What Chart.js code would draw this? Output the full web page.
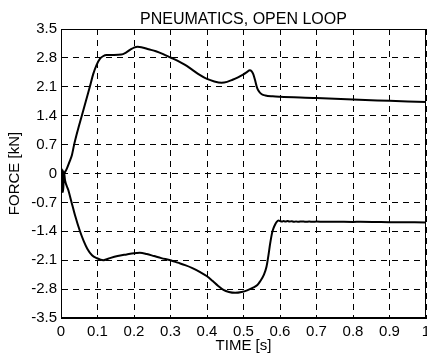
<!DOCTYPE html>
<html>
<head>
<meta charset="utf-8">
<script src="https://cdn.jsdelivr.net/npm/chart.js@4.4.0/dist/chart.umd.min.js"></script>
<style>
  html, body { margin: 0; padding: 0; background: #fff; }
  #wrap { width: 427px; height: 358px; }
</style>
</head>
<body>
<div id="wrap"><canvas id="forceChart" width="427" height="358"></canvas></div>
<script>
// Titel und Achsen
const chartTitle = 'PNEUMATICS, OPEN LOOP';
const xTitle = 'TIME [s]';
const yTitle = 'FORCE [kN]';

// Tick-Werte und Beschriftungen
const xTickValues = [0, 0.1, 0.2, 0.3, 0.4, 0.5, 0.6, 0.7, 0.8, 0.9, 1];
const xTickLabels = ['0', '0.1', '0.2', '0.3', '0.4', '0.5', '0.6', '0.7', '0.8', '0.9', '1'];
const yTickValues = [-3.5, -2.8, -2.1, -1.4, -0.7, 0, 0.7, 1.4, 2.1, 2.8, 3.5];
const yTickLabels = ['-3.5', '-2.8', '-2.1', '-1.4', '-0.7', '0', '0.7', '1.4', '2.1', '2.8', '3.5'];

// obere Kurve (positive Kraft)
const upperTime = [0, 0.004, 0.007, 0.011, 0.016, 0.024, 0.030, 0.036, 0.046, 0.057, 0.068, 0.079, 0.088, 0.097,
  0.107, 0.115, 0.125, 0.145, 0.165, 0.178, 0.190, 0.200, 0.210, 0.220, 0.240, 0.260, 0.280, 0.300, 0.320, 0.340,
  0.360, 0.380, 0.400, 0.420, 0.440, 0.455, 0.470, 0.485, 0.500, 0.510, 0.517, 0.522, 0.527, 0.532, 0.537, 0.543,
  0.550, 0.560, 0.580, 0.600, 0.700, 0.800, 0.900, 1.000];
const upperForce = [0, 0.08, 0.0, 0.03, 0.12, 0.30, 0.45, 0.70, 1.05, 1.40, 1.75, 2.10, 2.40, 2.62,
  2.78, 2.84, 2.87, 2.87, 2.88, 2.93, 3.00, 3.05, 3.07, 3.06, 3.01, 2.96, 2.89, 2.81, 2.73, 2.63,
  2.51, 2.39, 2.29, 2.23, 2.20, 2.22, 2.27, 2.33, 2.40, 2.46, 2.50, 2.48, 2.40, 2.25, 2.08, 1.98,
  1.92, 1.89, 1.87, 1.86, 1.83, 1.79, 1.76, 1.73];

// untere Kurve (negative Kraft)
const lowerTime = [0, 0.003, 0.004, 0.006, 0.008, 0.011, 0.020, 0.029, 0.038, 0.052, 0.062, 0.072, 0.085, 0.098,
  0.116, 0.134, 0.155, 0.180, 0.200, 0.216, 0.235, 0.255, 0.275, 0.300, 0.320, 0.340, 0.360, 0.380, 0.400, 0.415,
  0.430, 0.445, 0.460, 0.477, 0.495, 0.510, 0.525, 0.538, 0.545, 0.556, 0.563, 0.568, 0.573, 0.578, 0.582, 0.587,
  0.591, 0.596, 0.600, 0.605, 0.610, 0.615, 0.620, 0.626, 0.632, 0.638, 0.644, 0.650, 0.660, 0.670, 0.680, 0.690,
  0.700, 0.720, 0.750, 0.800, 0.820, 0.870, 0.900, 1.000];
const lowerForce = [0, 0.10, -0.45, -0.45, 0.05, -0.16, -0.40, -0.70, -1.00, -1.40, -1.63, -1.82, -1.98, -2.05,
  -2.10, -2.05, -2.00, -1.96, -1.93, -1.92, -1.95, -2.00, -2.05, -2.10, -2.16, -2.22, -2.29, -2.38, -2.49, -2.60,
  -2.72, -2.82, -2.87, -2.89, -2.87, -2.83, -2.77, -2.70, -2.62, -2.45, -2.26, -2.00, -1.70, -1.45, -1.33, -1.23,
  -1.17, -1.14, -1.15, -1.165, -1.15, -1.165, -1.15, -1.165, -1.155, -1.17, -1.16, -1.17, -1.16, -1.17, -1.162, -1.17,
  -1.165, -1.17, -1.168, -1.172, -1.17, -1.175, -1.178, -1.185];

const fontFamily = '"Liberation Sans", Arial, Helvetica, sans-serif';

function toPoints(xs, ys) {
  return xs.map((x, i) => ({ x: x, y: ys[i] }));
}

// Rahmen und Titel über dem Plotbereich
const framePlugin = {
  id: 'frame',
  afterDraw(chart) {
    const ctx = chart.ctx;
    const a = chart.chartArea;
    ctx.save();
    ctx.strokeStyle = '#000';
    ctx.lineWidth = 1;
    ctx.strokeRect(a.left + 0.5, a.top + 0.5, a.right - a.left - 1, a.bottom - a.top - 1);
    ctx.fillStyle = '#000';
    ctx.font = '16px ' + fontFamily;
    ctx.textAlign = 'center';
    ctx.textBaseline = 'alphabetic';
    ctx.fillText(chartTitle, (a.left + a.right) / 2, 24);
    ctx.restore();
  }
};

const lineStyle = {
  borderColor: '#000',
  borderWidth: 2,
  pointRadius: 0,
  showLine: true,
  fill: false,
  cubicInterpolationMode: 'monotone'
};

new Chart(document.getElementById('forceChart'), {
  type: 'scatter',
  data: {
    datasets: [
      Object.assign({ label: 'upper', data: toPoints(upperTime, upperForce) }, lineStyle),
      Object.assign({ label: 'lower', data: toPoints(lowerTime, lowerForce) }, lineStyle)
    ]
  },
  options: {
    responsive: false,
    animation: false,
    devicePixelRatio: 1,
    layout: { padding: { left: 0, top: 29, right: 1, bottom: 0 } },
    plugins: {
      legend: { display: false },
      tooltip: { enabled: false }
    },
    scales: {
      x: {
        type: 'linear',
        min: 0,
        max: 1,
        afterBuildTicks: s => { s.ticks = xTickValues.map(v => ({ value: v })); },
        afterFit: s => { s.height = 40; s.paddingLeft = 0; s.paddingRight = 0; },
        ticks: {
          color: '#000',
          font: { family: fontFamily, size: 15 },
          padding: 5,
          maxRotation: 0,
          autoSkip: false,
          callback: (v) => xTickLabels[xTickValues.indexOf(v)]
        },
        grid: { color: '#000', lineWidth: 1, drawTicks: false },
        border: { display: true, color: '#000', width: 1, dash: [6, 5] },
        title: {
          display: true,
          text: xTitle,
          color: '#000',
          font: { family: fontFamily, size: 15 },
          padding: { top: 0, bottom: 3 }
        }
      },
      y: {
        type: 'linear',
        min: -3.5,
        max: 3.5,
        afterBuildTicks: s => { s.ticks = yTickValues.map(v => ({ value: v })); },
        afterFit: s => { s.width = 61; s.paddingTop = 0; s.paddingBottom = 0; },
        ticks: {
          color: '#000',
          font: { family: fontFamily, size: 15 },
          padding: 4,
          autoSkip: false,
          callback: (v) => yTickLabels[yTickValues.indexOf(v)]
        },
        grid: { color: '#000', lineWidth: 1, drawTicks: false },
        border: { display: true, color: '#000', width: 1, dash: [6, 5] },
        title: {
          display: true,
          text: yTitle,
          color: '#000',
          font: { family: fontFamily, size: 15 },
          padding: { top: 6, bottom: 0 }
        }
      }
    }
  },
  plugins: [framePlugin]
});
</script>
</body>
</html>
